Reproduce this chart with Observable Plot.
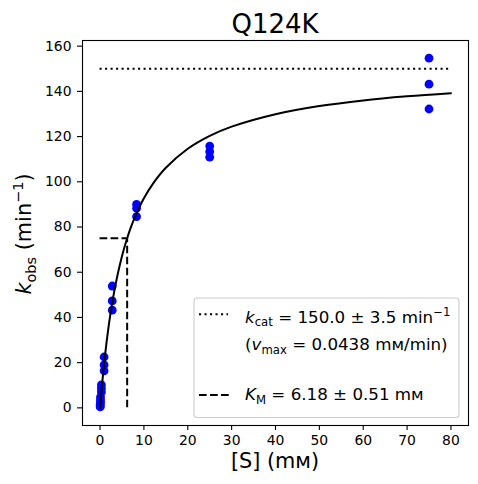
<!DOCTYPE html>
<html>
<head>
<meta charset="utf-8">
<script src="https://cdn.jsdelivr.net/npm/d3@7"></script>
<script src="https://cdn.jsdelivr.net/npm/@observablehq/plot@0.6"></script>
<style>
  html, body { margin: 0; padding: 0; background: white; }
</style>
</head>
<body>
<div id="chart"></div>
<script>
// ---- data ----
const substrate = [75, 75, 75, 25, 25, 25, 8.33, 8.33, 8.33, 2.78, 2.78, 2.78,
  0.926, 0.926, 0.926, 0.309, 0.309, 0.309, 0.103, 0.103, 0.103, 0.0343, 0.0343, 0.0343];
const kobs = [154.7, 143.2, 132.2, 115.8, 113.3, 110.9, 90.0, 88.3, 84.6, 53.9, 47.3, 43.2,
  22.5, 19.0, 16.4, 10.2, 8.6, 7.0, 4.8, 3.5, 2.4, 1.5, 0.9, 0.4];

// fitted curve
const curveS = [0, 0.25, 0.5, 1, 1.5, 2, 2.5, 3, 4, 5, 6, 7, 8, 10, 12, 15, 20, 25, 30, 40, 50, 60, 70, 80];
const curveK = [0, 5.8, 11.2, 20.9, 29.3, 36.7, 43.2, 49.0, 58.9, 67.1, 73.9, 79.7, 84.6, 92.7,
  99.0, 106.2, 114.6, 120.3, 124.4, 129.9, 133.5, 136.0, 137.8, 139.2];

const kcat = 150.0;
const Km = 6.18;
const halfK = 75.0;
const sMax = 80;

const xTicks = [0, 10, 20, 30, 40, 50, 60, 70, 80];
const yTicks = [0, 20, 40, 60, 80, 100, 120, 140, 160];

const points = substrate.map((s, i) => ({s, k: kobs[i]}));
const curve = curveS.map((s, i) => ({s, k: curveK[i]}));

const FONT = "DejaVu Sans, sans-serif";

const svg = Plot.plot({
  width: 478,
  height: 484,
  marginLeft: 82,
  marginRight: 10,
  marginTop: 40,
  marginBottom: 59,
  style: {fontFamily: FONT, fontSize: "13.9px", color: "black", background: "white", overflow: "visible"},
  x: {domain: [-4, 84]},
  y: {domain: [-7.8, 162.5]},
  marks: [
    Plot.axisX({ticks: xTicks, tickSize: 5, tickPadding: 5, label: null, fontSize: 13.9, strokeWidth: 1.1}),
    Plot.axisY({ticks: yTicks, tickSize: 5, tickPadding: 6, label: null, fontSize: 13.9, strokeWidth: 1.1}),
    Plot.dot(points, {x: "s", y: "k", r: 4.4, fill: "#0000ff", stroke: null}),
    Plot.line(curve, {x: "s", y: "k", stroke: "black", strokeWidth: 2, curve: "catmull-rom"}),
    Plot.ruleY([kcat], {x1: 0, x2: sMax, stroke: "black", strokeWidth: 2, strokeDasharray: "2.1,3.4"}),
    Plot.ruleY([halfK], {x1: 0, x2: Km, stroke: "black", strokeWidth: 2, strokeDasharray: "7.7,3.3"}),
    Plot.ruleX([Km], {y1: 0, y2: halfK, stroke: "black", strokeWidth: 2, strokeDasharray: "7.7,3.3"}),
    Plot.frame({stroke: "black", strokeWidth: 1.1})
  ]
});

const root = d3.select(svg);

// title
root.append("text")
  .attr("x", 275).attr("y", 33)
  .attr("text-anchor", "middle")
  .attr("font-family", FONT).attr("font-size", 26).attr("fill", "black")
  .text("Q124K");

// x label
root.append("text")
  .attr("x", 275).attr("y", 468)
  .attr("text-anchor", "middle")
  .attr("font-family", FONT).attr("font-size", 20.8).attr("fill", "black")
  .text("[S] (mм)");

// y label
const yl = root.append("text")
  .attr("transform", "translate(31,234) rotate(-90)")
  .attr("text-anchor", "middle")
  .attr("font-family", FONT).attr("font-size", 20.8).attr("fill", "black");
yl.append("tspan").attr("font-style", "italic").text("k");
yl.append("tspan").attr("font-size", 14.5).attr("dy", 4.5).text("obs");
yl.append("tspan").attr("dy", -4.5).text(" (min");
yl.append("tspan").attr("font-size", 14.5).attr("dy", -8).text("−1");
yl.append("tspan").attr("dy", 8).text(")");

// legend
const lg = root.append("g").attr("text-anchor", "start");
lg.append("rect")
  .attr("x", 194).attr("y", 298).attr("width", 265).attr("height", 119.5)
  .attr("rx", 3).attr("fill", "white").attr("fill-opacity", 0.8)
  .attr("stroke", "#cccccc").attr("stroke-width", 1.1);
lg.append("line")
  .attr("x1", 199).attr("x2", 228).attr("y1", 314.3).attr("y2", 314.3)
  .attr("stroke", "black").attr("stroke-width", 2).attr("stroke-dasharray", "2.1,3.4");
lg.append("line")
  .attr("x1", 199).attr("x2", 229).attr("y1", 395).attr("y2", 395)
  .attr("stroke", "black").attr("stroke-width", 2).attr("stroke-dasharray", "7.7,3.3");

const LF = 16.7, SF = 11.7;
const t1 = lg.append("text").attr("x", 245).attr("y", 322.5).attr("text-anchor", "start")
  .attr("font-family", FONT).attr("font-size", LF).attr("fill", "black");
t1.append("tspan").attr("font-style", "italic").text("k");
t1.append("tspan").attr("font-size", SF).attr("dy", 3.5).text("cat");
t1.append("tspan").attr("dy", -3.5).text(" = 150.0 ± 3.5 min");
t1.append("tspan").attr("font-size", SF).attr("dy", -7).text("−1");

const t2 = lg.append("text").attr("x", 245).attr("y", 350).attr("text-anchor", "start")
  .attr("font-family", FONT).attr("font-size", LF).attr("fill", "black");
t2.append("tspan").text("(");
t2.append("tspan").attr("font-style", "italic").text("v");
t2.append("tspan").attr("font-size", SF).attr("dy", 3.5).text("max");
t2.append("tspan").attr("dy", -3.5).text(" = 0.0438 mм/min)");

const t3 = lg.append("text").attr("x", 245).attr("y", 400).attr("text-anchor", "start")
  .attr("font-family", FONT).attr("font-size", LF).attr("fill", "black");
t3.append("tspan").attr("font-style", "italic").text("K");
t3.append("tspan").attr("font-size", SF).attr("dy", 3.5).text("M");
t3.append("tspan").attr("dy", -3.5).text(" = 6.18 ± 0.51 mм");

document.getElementById("chart").appendChild(svg);
</script>
</body>
</html>
